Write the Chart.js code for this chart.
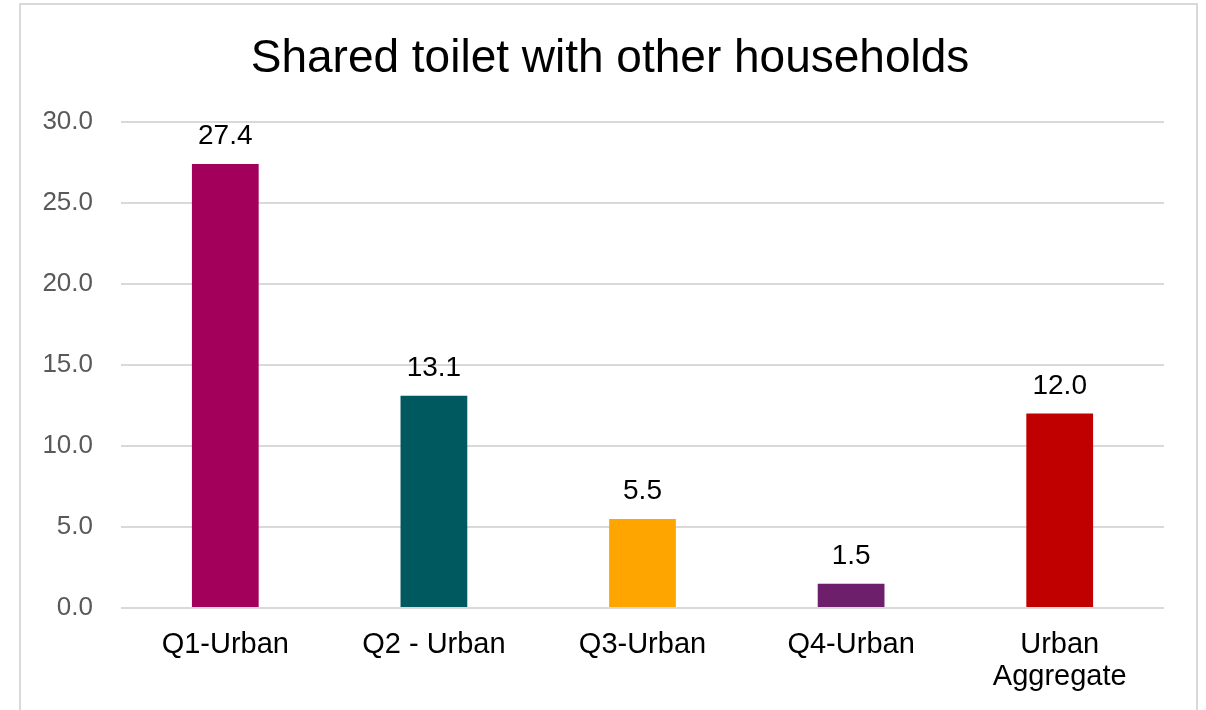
<!DOCTYPE html>
<html>
<head>
<meta charset="utf-8">
<script src="https://cdn.jsdelivr.net/npm/chart.js@4.4.1/dist/chart.umd.min.js"></script>
<style>
  html, body { margin: 0; padding: 0; background: #fff; }
  #wrap { position: relative; width: 1206px; height: 710px; overflow: hidden; }
  #frame { position: absolute; left: 19px; top: 3px; width: 1179px; height: 740px; border: 2px solid #d9d9d9; box-sizing: border-box; }
  canvas { position: absolute; left: 0; top: 0; }
</style>
</head>
<body>
<div id="wrap">
  <div id="frame"></div>
  <canvas id="shareChart" width="1206" height="710"></canvas>
</div>
<script>
const chartTitle = "Shared toilet with other households";
const categories = ["Q1-Urban", "Q2 - Urban", "Q3-Urban", "Q4-Urban", ["Urban", "Aggregate"]];
const shareValues = [27.4, 13.1, 5.5, 1.5, 12.0];
const barColors = ["#a3005c", "#00595e", "#ffa500", "#6e1f6b", "#c00000"];
const yTicks = [0, 5, 10, 15, 20, 25, 30];

const FONT = "'Liberation Sans', Arial, sans-serif";

// title is drawn by hand so it can sit a little right of the plot centre
const titleText = {
  id: "titleText",
  afterDraw(chart) {
    const ctx = chart.ctx;
    ctx.save();
    ctx.font = "46px " + FONT;
    ctx.fillStyle = "#000";
    ctx.textAlign = "center";
    ctx.textBaseline = "alphabetic";
    ctx.fillText(chartTitle, 610, 72);
    ctx.restore();
  },
};

// value labels above each bar
const valueLabels = {
  id: "valueLabels",
  afterDatasetsDraw(chart) {
    const ctx = chart.ctx;
    const meta = chart.getDatasetMeta(0);
    ctx.save();
    ctx.font = "28px " + FONT;
    ctx.fillStyle = "#000";
    ctx.textAlign = "center";
    ctx.textBaseline = "alphabetic";
    meta.data.forEach((bar, idx) => {
      ctx.fillText(shareValues[idx].toFixed(1), bar.x, bar.y - 20);
    });
    ctx.restore();
  },
};

const canvasElement = document.getElementById("shareChart");

const shareChart = new Chart(canvasElement, {
  type: "bar",
  data: {
    labels: categories,
    datasets: [
      {
        data: shareValues,
        backgroundColor: barColors,
        borderWidth: 0,
        categoryPercentage: 1,
        barPercentage: 0.32,
      },
    ],
  },
  options: {
    responsive: false,
    animation: false,
    devicePixelRatio: 1,
    layout: { padding: { left: 0, right: 42, top: 122, bottom: 0 } },
    plugins: {
      legend: { display: false },
      tooltip: { enabled: false },
      title: { display: false },
    },
    scales: {
      x: {
        grid: { display: false },
        border: { display: false },
        ticks: {
          color: "#000",
          font: { family: FONT, size: 29, lineHeight: 1.1 },
          padding: 13,
          maxRotation: 0,
          autoSkip: false,
        },
        afterFit(scale) {
          scale.height = 102;
        },
      },
      y: {
        min: 0,
        max: 30,
        afterBuildTicks(scale) {
          scale.ticks = yTicks.map((v) => ({ value: v }));
        },
        grid: { color: "#d9d9d9", lineWidth: 2, drawTicks: false },
        border: { display: false },
        ticks: {
          color: "#595959",
          font: { family: FONT, size: 26 },
          padding: 28,
          callback: (v) => Number(v).toFixed(1),
        },
        afterFit(scale) {
          scale.width = 121;
        },
      },
    },
  },
  plugins: [valueLabels, titleText],
});
</script>
</body>
</html>
